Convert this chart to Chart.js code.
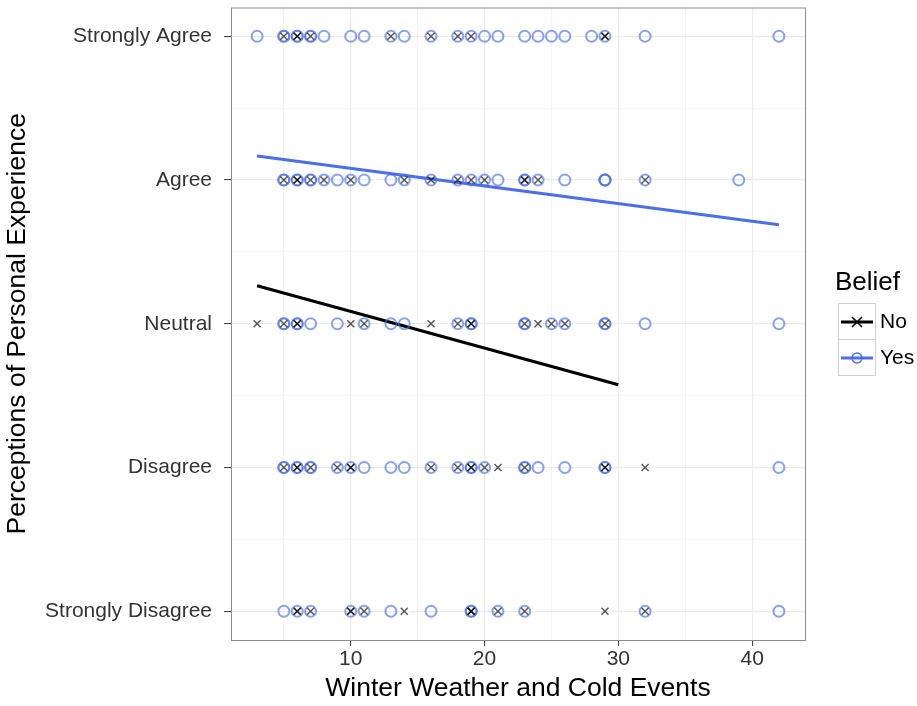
<!DOCTYPE html>
<html>
<head>
<meta charset="utf-8">
<script src="https://cdn.jsdelivr.net/npm/chart.js@4/dist/chart.umd.min.js"></script>
<style>
  html, body { margin: 0; padding: 0; background: #fff; }
  #wrap { width: 917px; height: 706px; }
</style>
</head>
<body>
<div id="wrap"><canvas id="myChart" width="917" height="706"></canvas></div>
<script>
// y levels (1 = Strongly Disagree ... 5 = Strongly Agree)
const levelLabels = ["Strongly Disagree", "Disagree", "Neutral", "Agree", "Strongly Agree"];
const xTicks = [10, 20, 30, 40];

// x values read per level, Belief = Yes (circles)
const yesStronglyAgree = [3, 5, 5, 6, 6, 7, 7, 8, 10, 11, 13, 14, 16, 18, 19, 20, 21, 23, 24, 25, 26, 28, 29, 32, 42];
const yesAgree = [5, 5, 6, 6, 7, 7, 8, 9, 10, 11, 13, 14, 16, 18, 19, 20, 21, 23, 23, 24, 26, 29, 29, 29, 32, 39];
const yesNeutral = [5, 5, 6, 6, 7, 9, 11, 13, 14, 18, 19, 19, 23, 23, 25, 26, 29, 29, 32, 42];
const yesDisagree = [5, 5, 6, 6, 7, 7, 9, 10, 11, 13, 14, 16, 18, 19, 19, 20, 23, 23, 24, 26, 29, 29, 42];
const yesStronglyDisagree = [5, 6, 7, 10, 11, 13, 16, 19, 19, 21, 23, 32, 42];

// Belief = No (crosses)
const noStronglyAgree = [5, 6, 6, 7, 13, 16, 18, 19, 29, 29];
const noAgree = [5, 6, 6, 7, 8, 10, 14, 16, 18, 19, 20, 23, 23, 24, 32];
const noNeutral = [3, 5, 6, 6, 10, 11, 16, 18, 19, 19, 23, 24, 25, 26, 29];
const noDisagree = [5, 6, 6, 7, 9, 10, 10, 16, 18, 19, 19, 20, 21, 23, 29, 29, 32];
const noStronglyDisagree = [6, 6, 7, 10, 10, 11, 14, 19, 19, 19, 21, 23, 29, 32];

// fitted lines
const yesLineX = [3, 42];
const yesLineY = [4.167, 3.688];
const noLineX = [3, 30];
const noLineY = [3.264, 2.576];

const toPoints = (rows) => {
  let pts = [];
  rows.forEach((xs, i) => xs.forEach(x => pts.push({ x: x, y: i + 1 })));
  return pts;
};
const yesPoints = toPoints([yesStronglyDisagree, yesDisagree, yesNeutral, yesAgree, yesStronglyAgree]);
const noPoints = toPoints([noStronglyDisagree, noDisagree, noNeutral, noAgree, noStronglyAgree]);
const linePts = (xs, ys) => xs.map((x, i) => ({ x: x, y: ys[i] }));

const BLUE = "#4a6fe8";
const FONT = "'Liberation Sans', Arial, sans-serif";

// panel border + ggplot-like legend
const ggExtras = {
  id: "ggExtras",
  afterDraw(chart) {
    const c = chart.ctx, a = chart.chartArea;
    c.save();
    c.strokeStyle = "#8c8c8c";
    c.lineWidth = 1;
    c.strokeRect(a.left + 0.5, a.top + 0.5, a.right - a.left, a.bottom - a.top);

    c.fillStyle = "#000";
    c.font = "26px " + FONT;
    c.textBaseline = "middle";
    c.fillText("Belief", 835, 283);

    const keys = [
      { label: "No", color: "#000", style: "cross", y: 322 },
      { label: "Yes", color: BLUE, style: "circle", y: 358 }
    ];
    keys.forEach(k => {
      c.strokeStyle = "#d0d0d0";
      c.lineWidth = 1;
      c.strokeRect(838.5, k.y - 18.5, 37, 36);
      c.strokeStyle = k.color;
      c.lineWidth = 3;
      c.beginPath();
      c.moveTo(841, k.y);
      c.lineTo(873, k.y);
      c.stroke();
      c.lineWidth = 1.5;
      c.beginPath();
      if (k.style === "cross") {
        c.moveTo(852, k.y - 5); c.lineTo(862, k.y + 5);
        c.moveTo(852, k.y + 5); c.lineTo(862, k.y - 5);
      } else {
        c.arc(857, k.y, 5, 0, Math.PI * 2);
      }
      c.stroke();
      c.fillStyle = "#000";
      c.font = "21px " + FONT;
      c.fillText(k.label, 880, k.y);
    });
    c.restore();
  }
};

const gridW = (isMajor) => isMajor ? 1.2 : 0.6;

document.addEventListener("DOMContentLoaded", () => {
  const ctx = document.getElementById("myChart").getContext("2d");

  new Chart(ctx, {
    type: "scatter",
    data: {
      datasets: [
        {
          label: "No",
          data: noPoints,
          pointStyle: "crossRot",
          pointRadius: 5,
          pointBorderWidth: 1.5,
          borderColor: "rgba(0,0,0,0.65)",
          backgroundColor: "rgba(0,0,0,0)"
        },
        {
          label: "Yes",
          data: yesPoints,
          pointStyle: "circle",
          pointRadius: 5.5,
          pointBorderWidth: 2,
          borderColor: "rgba(74,111,232,0.65)",
          backgroundColor: "rgba(0,0,0,0)"
        },
        {
          type: "line",
          label: "No fit",
          data: linePts(noLineX, noLineY),
          borderColor: "#000",
          borderWidth: 3,
          pointRadius: 0,
          fill: false
        },
        {
          type: "line",
          label: "Yes fit",
          data: linePts(yesLineX, yesLineY),
          borderColor: BLUE,
          borderWidth: 3,
          pointRadius: 0,
          fill: false
        }
      ]
    },
    options: {
      responsive: false,
      animation: false,
      layout: { padding: { left: 0, top: 6, right: 112, bottom: 0 } },
      plugins: {
        legend: { display: false },
        tooltip: { enabled: false }
      },
      scales: {
        x: {
          type: "linear",
          min: 1.05,
          max: 43.95,
          afterBuildTicks: (s) => { s.ticks = [5, 10, 15, 20, 25, 30, 35, 40].map(v => ({ value: v })); },
          afterFit: (s) => { s.height = 66; s.paddingLeft = 0; s.paddingRight = 0; },
          border: { display: false },
          grid: {
            color: "#ececec",
            lineWidth: (c) => gridW(c.tick && c.tick.value % 10 === 0),
            tickColor: (c) => (c.tick && c.tick.value % 10 === 0) ? "#333" : "rgba(0,0,0,0)",
            tickLength: 6,
            tickWidth: 1
          },
          ticks: {
            color: "#333",
            font: { size: 21, family: FONT },
            padding: 1,
            callback: (v) => xTicks.includes(v) ? v : ""
          },
          title: {
            display: true,
            text: "Winter Weather and Cold Events",
            color: "#000",
            font: { size: 26.5, family: FONT },
            padding: { top: 0, bottom: 1 }
          }
        },
        y: {
          type: "linear",
          min: 0.8,
          max: 5.2,
          afterBuildTicks: (s) => { s.ticks = [1, 1.5, 2, 2.5, 3, 3.5, 4, 4.5, 5].map(v => ({ value: v })); },
          afterFit: (s) => { s.width = 231; s.paddingTop = 0; s.paddingBottom = 0; },
          border: { display: false },
          grid: {
            color: "#ececec",
            lineWidth: (c) => gridW(c.tick && Number.isInteger(c.tick.value)),
            tickColor: (c) => (c.tick && Number.isInteger(c.tick.value)) ? "#333" : "rgba(0,0,0,0)",
            tickLength: 7,
            tickWidth: 1
          },
          ticks: {
            color: "#333",
            font: { size: 21, family: FONT },
            padding: 12,
            callback: (v) => Number.isInteger(v) ? levelLabels[v - 1] : ""
          },
          title: {
            display: true,
            text: "Perceptions of Personal Experience",
            color: "#000",
            font: { size: 26.5, family: FONT },
            padding: { top: 2, bottom: 0 }
          }
        }
      }
    },
    plugins: [ggExtras]
  });
});
</script>
</body>
</html>
